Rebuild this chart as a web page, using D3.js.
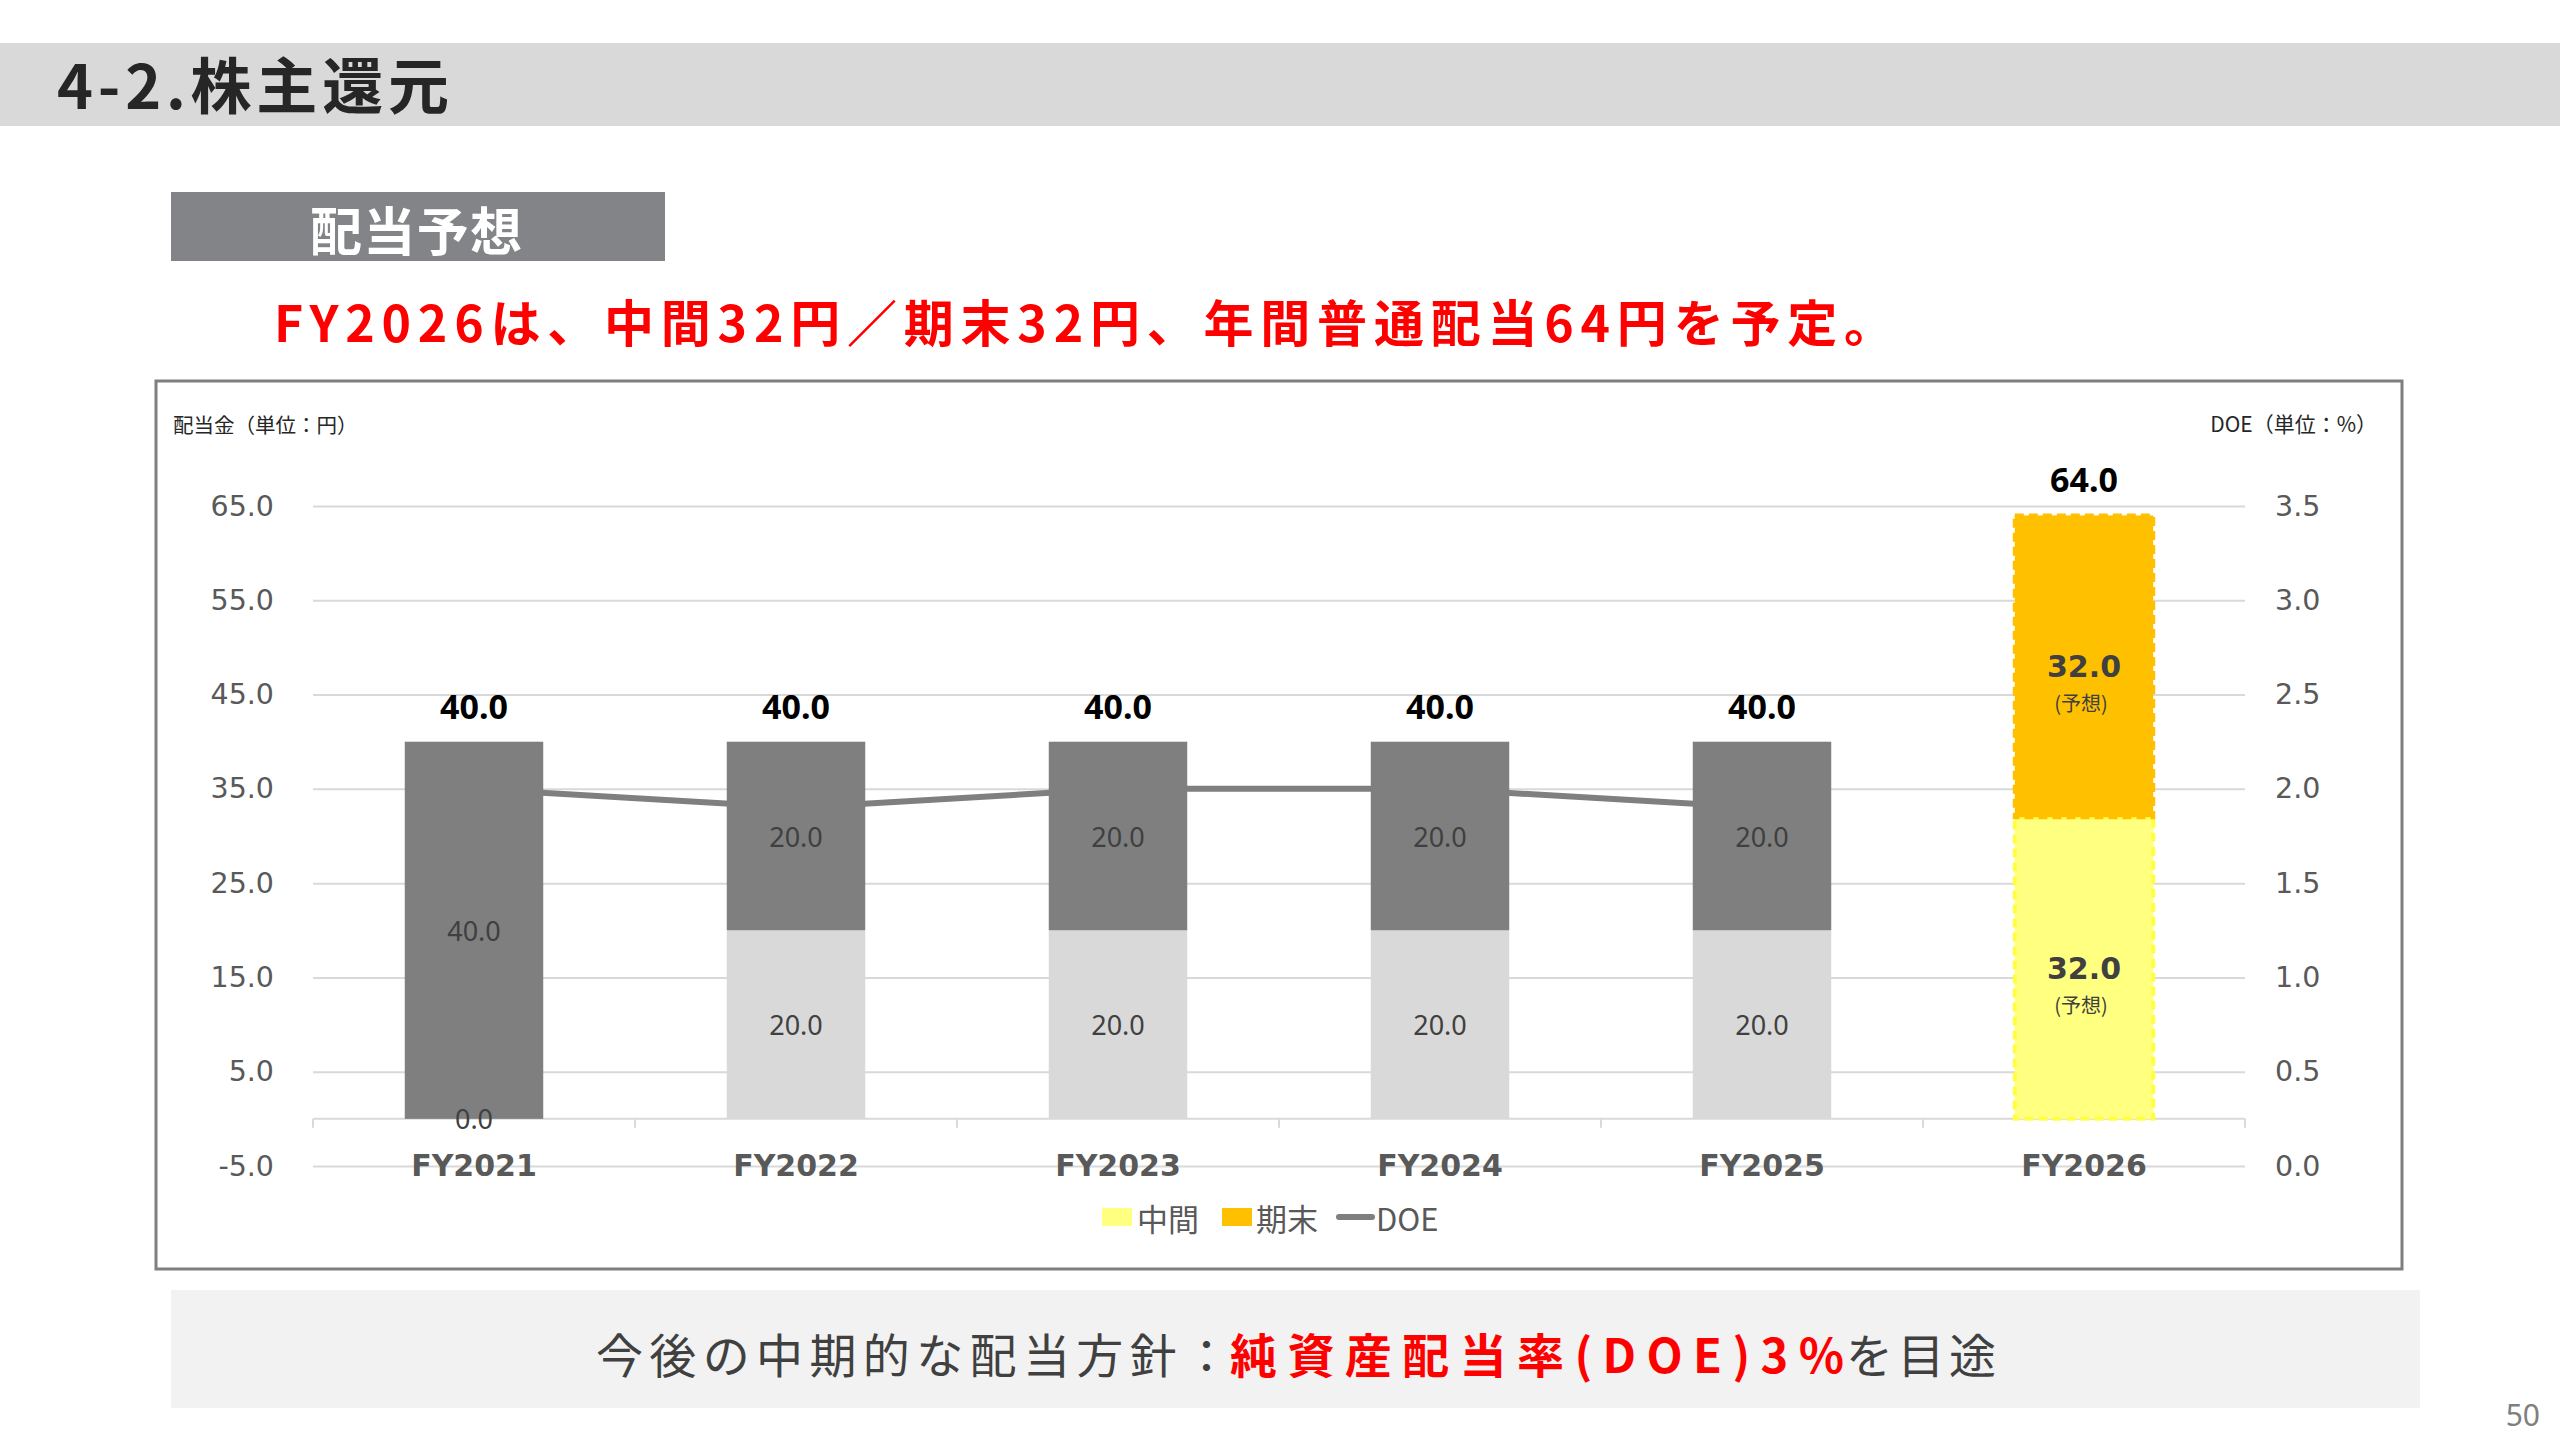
<!DOCTYPE html>
<html lang="ja">
<head>
<meta charset="utf-8">
<title>4-2.株主還元</title>
<script src="https://cdn.jsdelivr.net/npm/d3@7"></script>
<style>
    body { margin: 0; background: #ffffff; }
    svg { display: block; }
    .jp { font-family: "Noto Sans CJK JP", "Noto Sans", sans-serif; }
    .num { font-family: "DejaVu Sans", Verdana, sans-serif; }
    .lat { font-family: "Noto Sans", "Open Sans", sans-serif; }
    .axis path.domain { display: none; }
</style>
</head>
<body>
<div id="slide"></div>
<script>
// ---- chart values ----
var categories = ["FY2021", "FY2022", "FY2023", "FY2024", "FY2025", "FY2026"];
var interim = [0, 20, 20, 20, 20, 32];     // 中間
var yearEnd = [40, 20, 20, 20, 20, 32];    // 期末
var doe = [2.0, 1.9, 2.0, 2.0, 1.9, null]; // DOE (%)
var forecast = [false, false, false, false, false, true];
var leftTicks = [-5, 5, 15, 25, 35, 45, 55, 65];
var rightTicks = [0, 0.5, 1.0, 1.5, 2.0, 2.5, 3.0, 3.5];
var seriesNames = ["中間", "期末", "DOE"];

/**
 * Constructor for the dividend chart
 */
function DividendChart(selector) {
    var self = this;
    self.selector = selector;
    self.width = 2560;
    self.height = 1440;
    // plot area inside the framed box
    self.plot = {left: 313, right: 2245, top: 506, bottom: 1166};
}

/**
 * Creates the svg, the slide furniture and the scales
 */
DividendChart.prototype.init = function () {
    var self = this;

    self.svg = d3.select(self.selector).append("svg")
        .attr("width", self.width)
        .attr("height", self.height);

    self.drawSlide();

    // x scale, bars are ~139px wide in a 322px step
    self.xScale = d3.scaleBand()
        .domain(categories)
        .range([self.plot.left, self.plot.right])
        .paddingInner(0.57)
        .paddingOuter(0.285);

    // left axis: 配当金 (円)
    self.yScale = d3.scaleLinear()
        .domain([-5, 65])
        .range([self.plot.bottom, self.plot.top]);

    // right axis: DOE (%)
    self.y2Scale = d3.scaleLinear()
        .domain([0, 3.5])
        .range([self.plot.bottom, self.plot.top]);

    self.update();
};

/**
 * Header band, headline, framed box, bottom note
 */
DividendChart.prototype.drawSlide = function () {
    var self = this;
    var svg = self.svg;

    svg.append("rect").attr("x", 0).attr("y", 43).attr("width", self.width).attr("height", 83)
        .attr("fill", "#d9d9d9");
    svg.append("text").attr("class", "jp").attr("x", 57).attr("y", 109)
        .attr("font-size", 61).attr("font-weight", "bold").attr("fill", "#262626")
        .attr("textLength", 392).attr("lengthAdjust", "spacing")
        .text("4-2.株主還元");

    svg.append("rect").attr("x", 171).attr("y", 192).attr("width", 494).attr("height", 69)
        .attr("fill", "#838488");
    svg.append("text").attr("class", "jp").attr("x", 310).attr("y", 228)
        .attr("dominant-baseline", "central")
        .attr("font-size", 52).attr("font-weight", "bold").attr("fill", "#ffffff")
        .attr("textLength", 212).attr("lengthAdjust", "spacing")
        .text("配当予想");

    svg.append("text").attr("class", "jp").attr("x", 274).attr("y", 320)
        .attr("dominant-baseline", "central")
        .attr("font-size", 50).attr("font-weight", "bold").attr("fill", "#ff0000")
        .attr("textLength", 1620).attr("lengthAdjust", "spacing")
        .text("FY2026は、中間32円／期末32円、年間普通配当64円を予定。");

    // chart frame
    svg.append("rect").attr("x", 156).attr("y", 381).attr("width", 2246).attr("height", 888)
        .attr("fill", "#ffffff").attr("stroke", "#7f7f7f").attr("stroke-width", 3);

    svg.append("text").attr("class", "jp").attr("x", 173).attr("y", 424)
        .attr("dominant-baseline", "central").attr("font-size", 20.5).attr("fill", "#262626")
        .text("配当金（単位：円）");
    svg.append("text").attr("class", "jp").attr("x", 2377).attr("y", 423)
        .attr("dominant-baseline", "central").attr("text-anchor", "end")
        .attr("font-size", 21).attr("fill", "#262626")
        .text("DOE（単位：%）");

    // bottom policy note
    svg.append("rect").attr("x", 171).attr("y", 1290).attr("width", 2249).attr("height", 118)
        .attr("fill", "#f2f2f2");
    var note = svg.append("g").attr("class", "jp").attr("font-size", 47);
    note.append("text").attr("x", 596).attr("y", 1352).attr("dominant-baseline", "central")
        .attr("fill", "#404040").attr("textLength", 634).attr("lengthAdjust", "spacing")
        .text("今後の中期的な配当方針：");
    note.append("text").attr("x", 1230).attr("y", 1352).attr("dominant-baseline", "central")
        .attr("fill", "#ff0000").attr("font-weight", "bold")
        .attr("textLength", 614).attr("lengthAdjust", "spacing")
        .text("純資産配当率(DOE)3%");
    note.append("text").attr("x", 1846).attr("y", 1352).attr("dominant-baseline", "central")
        .attr("fill", "#404040").attr("textLength", 150).attr("lengthAdjust", "spacing")
        .text("を目途");

    svg.append("text").attr("class", "lat").attr("x", 2540).attr("y", 1414)
        .attr("dominant-baseline", "central").attr("text-anchor", "end")
        .attr("font-size", 30).attr("fill", "#7f7f7f")
        .text("50");
};

/**
 * Draws axes, stacked bars, DOE line, labels and legend
 */
DividendChart.prototype.update = function () {
    var self = this;
    var plotW = self.plot.right - self.plot.left;
    // plain hyphen for negatives like the slide ("-5.0")
    var fmt = function (d) { return d3.format(".1f")(d).replace("\u2212", "-"); };

    var rows = categories.map(function (c, i) {
        return {cat: c, interim: interim[i], yearEnd: yearEnd[i], doe: doe[i], forecast: forecast[i]};
    });

    // left axis with gridlines
    var yAxis = self.svg.append("g")
        .attr("class", "axis num")
        .attr("transform", "translate(" + self.plot.left + ",0)")
        .call(d3.axisLeft(self.yScale).tickValues(leftTicks)
            .tickFormat(fmt).tickSizeInner(-plotW).tickSizeOuter(0).tickPadding(39));
    yAxis.selectAll(".tick line").attr("stroke", "#d9d9d9").attr("stroke-width", 2);
    yAxis.selectAll(".tick text").attr("font-size", 28.5).attr("fill", "#595959")
        .attr("font-family", "DejaVu Sans");

    // right axis
    var y2Axis = self.svg.append("g")
        .attr("class", "axis num")
        .attr("transform", "translate(" + self.plot.right + ",0)")
        .call(d3.axisRight(self.y2Scale).tickValues(rightTicks)
            .tickFormat(fmt).tickSize(0).tickPadding(30));
    y2Axis.selectAll(".tick text").attr("font-size", 28.5).attr("fill", "#595959")
        .attr("font-family", "DejaVu Sans");

    // category axis at value 0
    var y0 = self.yScale(0);
    var xAxis = self.svg.append("g")
        .attr("class", "axis num")
        .attr("transform", "translate(0," + y0 + ")")
        .call(d3.axisBottom(self.xScale).tickSize(0));
    xAxis.selectAll(".tick text")
        .attr("dy", null).attr("y", self.plot.bottom - y0)
        .attr("dominant-baseline", "central")
        .attr("font-size", 30).attr("font-weight", "bold").attr("fill", "#595959")
        .attr("font-family", "DejaVu Sans");
    xAxis.append("line").attr("x1", self.plot.left).attr("x2", self.plot.right)
        .attr("stroke", "#d9d9d9").attr("stroke-width", 2);
    var step = self.xScale.step();
    xAxis.selectAll(".sep").data(d3.range(categories.length + 1)).enter()
        .append("line").attr("class", "sep")
        .attr("x1", function (i) { return self.plot.left + i * step; })
        .attr("x2", function (i) { return self.plot.left + i * step; })
        .attr("y1", 0).attr("y2", 9)
        .attr("stroke", "#d9d9d9").attr("stroke-width", 2);

    // DOE line goes under the bars
    var line = d3.line()
        .defined(function (d) { return d.doe != null; })
        .x(function (d) { return self.xScale(d.cat) + self.xScale.bandwidth() / 2; })
        .y(function (d) { return self.y2Scale(d.doe); });
    self.svg.append("path").datum(rows)
        .attr("d", line)
        .attr("fill", "none").attr("stroke", "#7f7f7f").attr("stroke-width", 6);

    // stacked bars
    var stack = d3.stack().keys(["interim", "yearEnd"]);
    var layers = stack(rows);

    function fillOf(key, d) {
        if (d.data.forecast) return key === "interim" ? "#ffff80" : "#ffc000";
        return key === "interim" ? "#d9d9d9" : "#7f7f7f";
    }

    var layerG = self.svg.selectAll(".layer").data(layers).enter()
        .append("g").attr("class", "layer");

    layerG.selectAll("rect").data(function (l) {
            return l.map(function (d) { d.key = l.key; return d; });
        }).enter()
        .append("rect")
        .attr("x", function (d) { return self.xScale(d.data.cat); })
        .attr("width", self.xScale.bandwidth())
        .attr("y", function (d) { return self.yScale(d[1]); })
        .attr("height", function (d) { return self.yScale(d[0]) - self.yScale(d[1]); })
        .attr("fill", function (d) { return fillOf(d.key, d); })
        .attr("stroke", function (d) {
            if (!d.data.forecast) return "none";
            return d.key === "interim" ? "#ffff40" : "#ffc000";
        })
        .attr("stroke-width", 4)
        .attr("stroke-dasharray", "9,5");

    // segment labels (on top of all bars)
    var segG = self.svg.append("g").attr("class", "seg-labels");
    layers.forEach(function (l) {
        l.forEach(function (d) {
            var cx = self.xScale(d.data.cat) + self.xScale.bandwidth() / 2;
            var cy = self.yScale((d[0] + d[1]) / 2);
            var v = d[1] - d[0];
            if (d.data.forecast) {
                segG.append("text").attr("class", "num")
                    .attr("x", cx).attr("y", cy)
                    .attr("text-anchor", "middle").attr("dominant-baseline", "central")
                    .attr("font-size", 30).attr("font-weight", "bold").attr("fill", "#404040")
                    .text(v.toFixed(1));
                segG.append("text").attr("class", "jp")
                    .attr("x", cx - 3).attr("y", cy + 36)
                    .attr("text-anchor", "middle").attr("dominant-baseline", "central")
                    .attr("font-size", 20).attr("fill", "#404040")
                    .text("(予想)");
            } else {
                segG.append("text").attr("class", "lat")
                    .attr("x", cx).attr("y", cy)
                    .attr("text-anchor", "middle").attr("dominant-baseline", "central")
                    .attr("font-size", 27).attr("fill", "#404040")
                    .text(v.toFixed(1));
            }
        });
    });

    // totals above bars
    self.svg.selectAll(".total").data(rows).enter()
        .append("text").attr("class", "total lat")
        .attr("x", function (d) { return self.xScale(d.cat) + self.xScale.bandwidth() / 2; })
        .attr("y", function (d) { return self.yScale(d.interim + d.yearEnd) - 36; })
        .attr("text-anchor", "middle").attr("dominant-baseline", "central")
        .attr("font-size", 34).attr("font-weight", "bold").attr("fill", "#000000")
        .text(function (d) { return (d.interim + d.yearEnd).toFixed(1); });

    // legend
    var legend = self.svg.append("g").attr("class", "jp").attr("transform", "translate(0,1217)");
    var items = [
        {name: seriesNames[0], type: "rect", color: "#ffff80", x: 1102, tx: 1137},
        {name: seriesNames[1], type: "rect", color: "#ffc000", x: 1222, tx: 1256},
        {name: seriesNames[2], type: "line", color: "#7f7f7f", x: 1339, tx: 1376}
    ];
    items.forEach(function (it) {
        if (it.type === "rect") {
            legend.append("rect").attr("x", it.x).attr("y", -9).attr("width", 30).attr("height", 18)
                .attr("fill", it.color);
        } else {
            legend.append("line").attr("x1", it.x).attr("x2", it.x + 33).attr("y1", 0).attr("y2", 0)
                .attr("stroke", it.color).attr("stroke-width", 6).attr("stroke-linecap", "round");
        }
        legend.append("text").attr("x", it.tx).attr("y", 0)
            .attr("dominant-baseline", "central")
            .attr("font-size", 31).attr("fill", "#595959")
            .text(it.name);
    });
};

var chart = new DividendChart("#slide");
chart.init();
</script>
</body>
</html>
